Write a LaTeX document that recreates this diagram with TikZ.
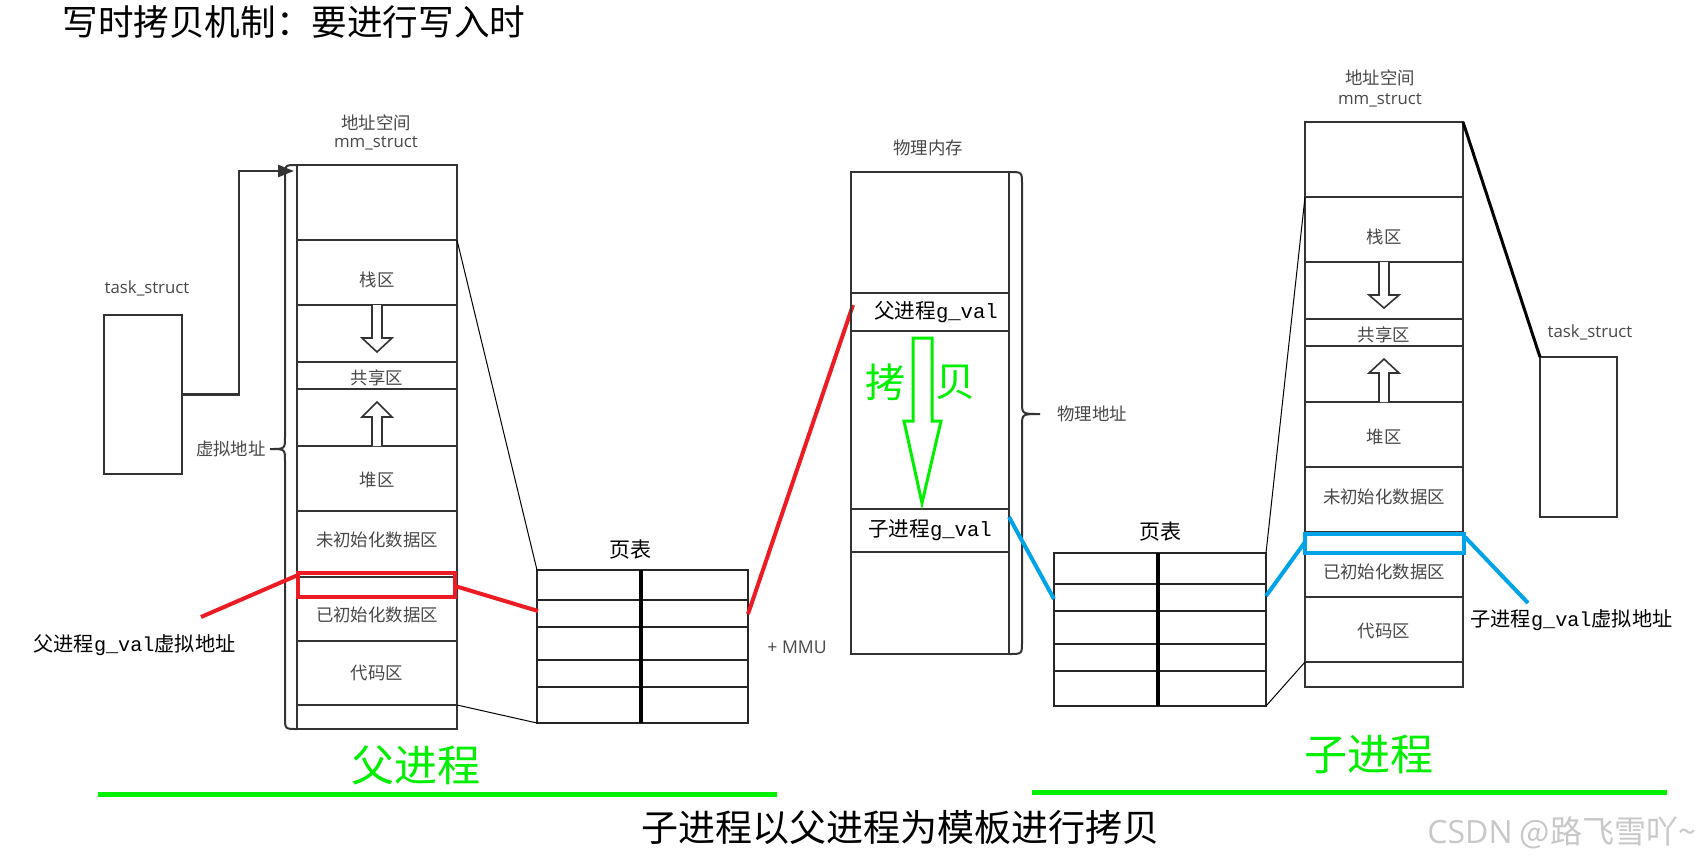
\documentclass[tikz,border=0pt]{standalone}
\usepackage{fontspec}
\setmainfont{Noto Sans CJK SC}
\newfontfamily\cjk{Noto Sans CJK SC}
\newfontfamily\lat{Open Sans}
\newfontfamily\mono{Liberation Mono}
\usetikzlibrary{arrows.meta}
\definecolor{ln}{RGB}{51,51,51}
\definecolor{tx}{RGB}{72,72,72}
\definecolor{pred}{RGB}{237,28,36}
\definecolor{pblue}{RGB}{0,162,232}
\definecolor{pgreen}{RGB}{0,240,0}
\definecolor{wm}{RGB}{200,200,200}
% cell: [opts]{name}{x1}{y1}{x2}{y2}
\newcommand\cellbox[6][]{\node[box,minimum width={(#5-#3)*0.5pt},minimum height={(#6-#4)*0.5pt},#1] (#2) at ({(#3+#5)/2},{(#4+#6)/2}) {};}
% hollow arrow: {cx}{y0}{yb}{yt}
\newcommand\hollowarrow[4]{\draw[harrow] ({#1-5},#2) -- ({#1-5},#3) -- ({#1-15},#3) -- (#1,#4) -- ({#1+15},#3) -- ({#1+5},#3) -- ({#1+5},#2);}
\begin{document}
\begin{tikzpicture}[x=0.5pt,y=-0.5pt,
  box/.style={draw=ln,line width=1.2pt,inner sep=0pt,outer sep=0pt},
  ptab/.style={draw=black!85,line width=1.2pt,inner sep=0pt,outer sep=0pt},
  lbl/.style={text=tx,font=\cjk\fontsize{8.7}{10}\selectfont,inner sep=0pt},
  latlbl/.style={text=tx,font=\lat\fontsize{8.4}{10}\selectfont,inner sep=0pt},
  big/.style={text=black,font=\cjk\fontsize{10.5}{12}\selectfont,inner sep=0pt},
  harrow/.style={draw=ln,line width=0.8pt,fill=white},
  thin/.style={draw=black,line width=0.5pt},
  redl/.style={draw=pred,line width=2pt},
  bluel/.style={draw=pblue,line width=2pt},
  brace/.style={draw=ln,line width=1pt}]
\useasboundingbox (0,0) rectangle (1708,864);
\fill[white] (0,0) rectangle (1708,864);

% title
\node[anchor=west,inner sep=0pt,font=\cjk\fontsize{17.8}{20}\selectfont] (title) at (62,22) {写时拷贝机制：要进行写入时};

% ---------------- parent ----------------
\cellbox{pts}{104}{315}{182}{474}
\node[latlbl] (ptsl) at (147,288) {task\_struct};

\node[lbl] (pmml1) at (376,123) {地址空间};
\node[latlbl] (pmml2) at (376,143) {mm\_struct};
\cellbox{p0}{297}{165}{457}{240}
\cellbox{p1}{297}{240}{457}{305}
\cellbox{p2}{297}{305}{457}{362}
\cellbox{p3}{297}{362}{457}{389}
\cellbox{p4}{297}{389}{457}{446}
\cellbox{p5}{297}{446}{457}{511}
\cellbox{p6}{297}{511}{457}{577}
\cellbox{p7}{297}{577}{457}{641}
\cellbox{p8}{297}{641}{457}{705}
\cellbox{p9}{297}{705}{457}{729}
\node[lbl] (pl1) at (377,280) {栈区};
\node[lbl] (pl3) at (377,378) {共享区};
\node[lbl] (pl5) at (377,480) {堆区};
\node[lbl] (pl6) at (377,540) {未初始化数据区};
\node[lbl] (pl7) at (377,615) {已初始化数据区};
\node[lbl] (pl8) at (377,673) {代码区};
\hollowarrow{377}{305}{338}{352}
\hollowarrow{377}{446}{417}{402}
\node[draw=pred,line width=1.75pt,minimum width=78.5pt,minimum height=12pt,inner sep=0pt] (pred) at (376.5,585) {};

% brace (virtual address)
\draw[brace] (297,165) .. controls (285,165) .. (285,177) -- (285,437) .. controls (285,449) .. (270,449) .. controls (285,449) .. (285,461) -- (285,717) .. controls (285,729) .. (297,729);
\node[lbl,anchor=east] (pva) at (266,449) {虚拟地址};

% arrow task_struct -> mm_struct
\coordinate (pmmin) at (294,171);
\draw[draw=ln,line width=1.2pt,-{Triangle[length=8pt,width=6pt]}] (pts.east) -- (239,394.5) |- (pmmin);

% page table (parent)
\node[big] (ptl) at (630,550) {页表};
\cellbox[ptab]{pt1}{537}{570}{748}{600}
\cellbox[ptab]{pt2}{537}{600}{748}{627}
\cellbox[ptab]{pt3}{537}{627}{748}{660}
\cellbox[ptab]{pt4}{537}{660}{748}{687}
\cellbox[ptab]{pt5}{537}{687}{748}{723}
\draw[draw=black,line width=1.6pt] (641,570) -- (641,723);

\draw[thin] (p1.north east) -- (pt1.north west);
\draw[thin] (p8.south east) -- (pt5.south west);

% red lines
\node[anchor=west,inner sep=0pt,font=\cjk\fontsize{10.1}{12}\selectfont] (plab) at (33,645) {父进程{\mono g\_val}虚拟地址};
\coordinate (plabend) at (201,617);
\coordinate (predin) at (298,575);
\draw[redl] (plabend) -- (predin);
\coordinate (predout) at (455,586);
\coordinate (ptin) at (538,611);
\draw[redl] (predout) -- (ptin);
\coordinate (ptout) at (748,614);
\coordinate (phpin) at (853,305);
\draw[redl] (ptout) -- (phpin);

\node[anchor=west,inner sep=0pt,text=tx,font=\lat\fontsize{8.8}{10}\selectfont] (mmu) at (767,647) {+ MMU};

% ---------------- physical memory ----------------
\node[lbl] (phl) at (928,148) {物理内存};
\cellbox{ph0}{851}{172}{1009}{293}
\cellbox{ph1}{851}{293}{1009}{331}
\cellbox{ph2}{851}{331}{1009}{509}
\cellbox{ph3}{851}{509}{1009}{552}
\cellbox{ph4}{851}{552}{1009}{654}
\node[inner sep=0pt,font=\cjk\fontsize{10.3}{12}\selectfont] (phpv) at (936,312) {父进程{\mono g\_val}};
\node[inner sep=0pt,font=\cjk\fontsize{10.3}{12}\selectfont] (phcv) at (930,530) {子进程{\mono g\_val}};
\draw[brace] (1009,172) .. controls (1022,172) .. (1022,184) -- (1022,402) .. controls (1022,414) .. (1040,414) .. controls (1022,414) .. (1022,426) -- (1022,642) .. controls (1022,654) .. (1009,654);
\node[lbl,anchor=west] (phaddr) at (1057,414) {物理地址};
% green copy arrow
\draw[draw=pgreen,line width=1.5pt] (913,338) -- (913,421) -- (904,421) -- (922,503) -- (941,421) -- (932,421) -- (932,338) -- cycle;
\node[inner sep=0pt,text=pgreen,font=\cjk\fontsize{20}{22}\selectfont] (cp1) at (885,382) {拷};
\node[inner sep=0pt,text=pgreen,font=\cjk\fontsize{20}{22}\selectfont] (cp2) at (955,382) {贝};

% ---------------- child ----------------
\node[big] (ctl) at (1160,532) {页表};
\cellbox[ptab]{ct1}{1054}{553}{1266}{584}
\cellbox[ptab]{ct2}{1054}{584}{1266}{611}
\cellbox[ptab]{ct3}{1054}{611}{1266}{644}
\cellbox[ptab]{ct4}{1054}{644}{1266}{671}
\cellbox[ptab]{ct5}{1054}{671}{1266}{706}
\draw[draw=black,line width=1.6pt] (1158,553) -- (1158,706);

\node[lbl] (cmml1) at (1380,78) {地址空间};
\node[latlbl] (cmml2) at (1380,100) {mm\_struct};
\cellbox{c0}{1305}{122}{1463}{197}
\cellbox{c1}{1305}{197}{1463}{262}
\cellbox{c2}{1305}{262}{1463}{319}
\cellbox{c3}{1305}{319}{1463}{346}
\cellbox{c4}{1305}{346}{1463}{402}
\cellbox{c5}{1305}{402}{1463}{467}
\cellbox{c6}{1305}{467}{1463}{532}
\cellbox{c7}{1305}{532}{1463}{597}
\cellbox{c8}{1305}{597}{1463}{662}
\cellbox{c9}{1305}{662}{1463}{687}
\node[lbl] (cl1) at (1384,237) {栈区};
\node[lbl] (cl3) at (1384,335) {共享区};
\node[lbl] (cl5) at (1384,437) {堆区};
\node[lbl] (cl6) at (1384,497) {未初始化数据区};
\node[lbl] (cl7) at (1384,572) {已初始化数据区};
\node[lbl] (cl8) at (1384,631) {代码区};
\hollowarrow{1384}{262}{295}{308}
\hollowarrow{1384}{402}{373}{359}
\node[draw=pblue,line width=1.75pt,minimum width=79.5pt,minimum height=9.5pt,inner sep=0pt] (cblue) at (1384.5,543.5) {};

\cellbox{cts}{1540}{357}{1617}{517}
\node[latlbl] (ctsl) at (1590,332) {task\_struct};
\draw[draw=black,line width=1.5pt] (c0.north east) -- (cts.north west);

\draw[thin] (c1.north west) -- (ct1.north east);
\draw[thin] (c8.south west) -- (ct5.south east);

% blue lines
\coordinate (phcout) at (1009,517);
\coordinate (ctin) at (1054,599);
\draw[bluel] (phcout) -- (ctin);
\coordinate (ctout) at (1266,596);
\coordinate (cbin) at (1305,542);
\draw[bluel] (ctout) -- (cbin);
\coordinate (cbout) at (1465,537);
\coordinate (clabend) at (1528,603);
\draw[bluel] (cbout) -- (clabend);
\node[anchor=west,inner sep=0pt,font=\cjk\fontsize{10.1}{12}\selectfont] (clab) at (1470,620) {子进程{\mono g\_val}虚拟地址};

% ---------------- bottom ----------------
\node[inner sep=0pt,text=pgreen,font=\cjk\fontsize{21.5}{24}\selectfont] (pproc) at (416,765) {父进程};
\node[inner sep=0pt,text=pgreen,font=\cjk\fontsize{21.5}{24}\selectfont] (cproc) at (1369,754) {子进程};
\coordinate (gl1a) at (98,794);
\coordinate (gl1b) at (777,794);
\coordinate (gl2a) at (1032,792);
\coordinate (gl2b) at (1667,792);
\draw[draw=pgreen,line width=2.5pt] (gl1a) -- (gl1b);
\draw[draw=pgreen,line width=2.5pt] (gl2a) -- (gl2b);
\node[inner sep=0pt,font=\cjk\fontsize{18.5}{22}\selectfont] (summary) at (900,828) {子进程以父进程为模板进行拷贝};
\node[anchor=west,inner sep=0pt,text=wm,font=\cjk\fontsize{16}{18}\selectfont] (wmark) at (1427,833) {{\lat CSDN} @路飞雪吖\textasciitilde};
\end{tikzpicture}
\end{document}
